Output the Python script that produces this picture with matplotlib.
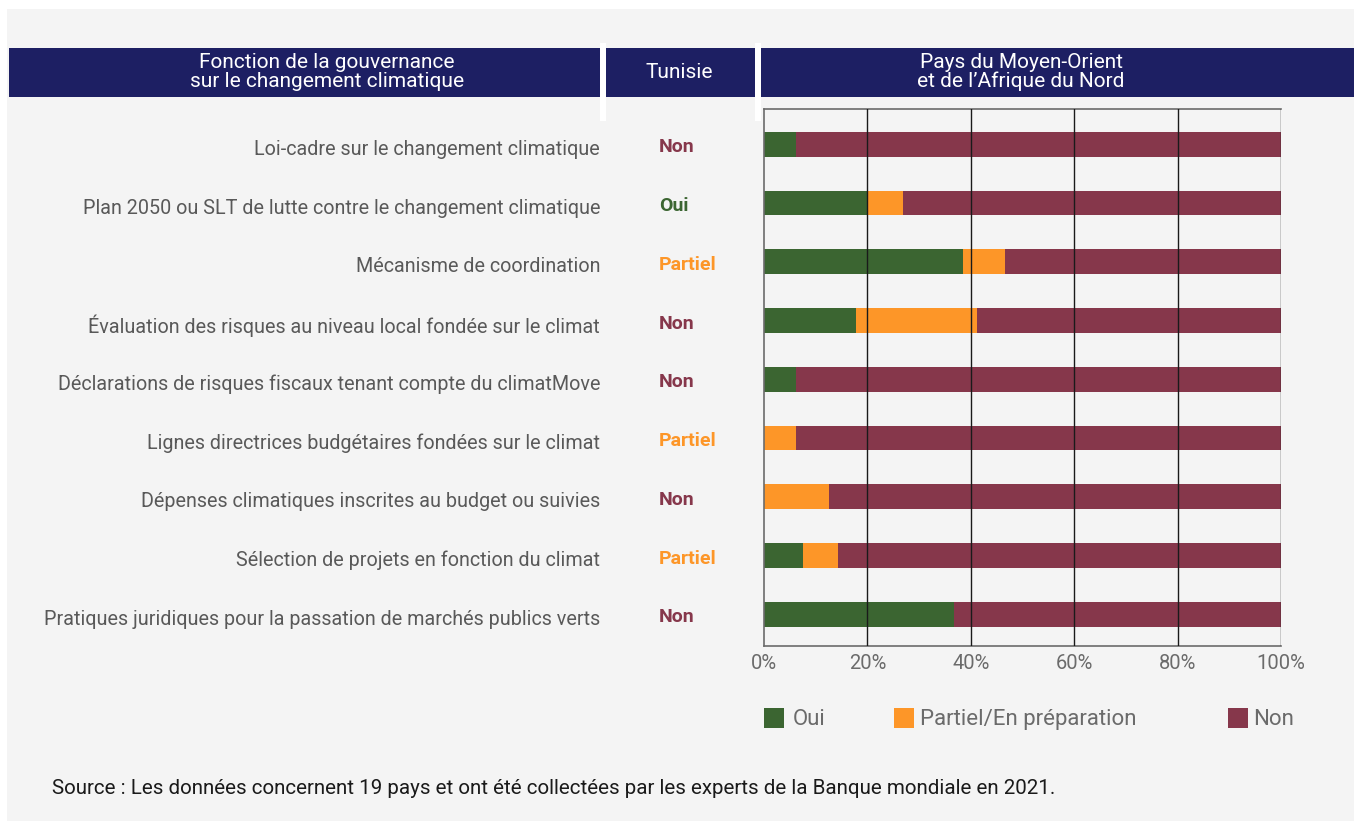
import matplotlib
matplotlib.use("Agg")
import matplotlib.pyplot as plt
import matplotlib.transforms as mtrans
from matplotlib.patches import Rectangle
from matplotlib import font_manager as fm
import numpy as np

# ---------------- data ----------------
categories = [
    "Loi-cadre sur le changement climatique",
    "Plan 2050 ou SLT de lutte contre le changement climatique",
    "Mécanisme de coordination",
    "Évaluation des risques au niveau local fondée sur le climat",
    "Déclarations de risques fiscaux tenant compte du climatMove",
    "Lignes directrices budgétaires fondées sur le climat",
    "Dépenses climatiques inscrites au budget ou suivies",
    "Sélection de projets en fonction du climat",
    "Pratiques juridiques pour la passation de marchés publics verts",
]
tunisie = ["Non", "Oui", "Partiel", "Non", "Non", "Partiel", "Non", "Partiel", "Non"]
oui = [6.1, 20.0, 38.4, 17.8, 6.1, 0.0, 0.0, 7.6, 36.7]
partiel = [0.0, 6.8, 8.3, 23.4, 0.0, 6.1, 12.6, 6.8, 0.0]
non = [100 - o - p for o, p in zip(oui, partiel)]
xticks = [0, 20, 40, 60, 80, 100]
xticklabels = ["0%", "20%", "40%", "60%", "80%", "100%"]
legend_labels = ["Oui", "Partiel/En préparation", "Non"]
headers = ["Fonction de la gouvernance\nsur le changement climatique", "Tunisie",
           "Pays du Moyen-Orient\net de l\u2019Afrique du Nord"]
source = "Source : Les données concernent 19 pays et ont été collectées par les experts de la Banque mondiale en 2021."

# ---------------- style ----------------
GREEN = "#3b6531"
ORANGE = "#fd9628"
MAROON = "#86374b"
NAVY = "#1d1f63"
BG = "#f4f4f4"
colors = [GREEN, ORANGE, MAROON]
status_colors = {"Non": MAROON, "Oui": GREEN, "Partiel": ORANGE}

avail = {f.name for f in fm.fontManager.ttflist}
body_font = [f for f in ["Roboto", "DejaVu Sans"] if f in avail]
plt.rcParams['font.family'] = body_font

W, H = 1354, 821
fig = plt.figure(figsize=(W / 100, H / 100), dpi=100, facecolor="white")


def fx(x):
    return x / W


def fy(y):
    return 1 - y / H


# gray panel
fig.patches.append(Rectangle((fx(7), 0), 1 - fx(7), fy(9), transform=fig.transFigure,
                             facecolor=BG, edgecolor="none", zorder=-10))
# header bars
for x0, x1 in [(9, 600), (606, 755), (761, 1354)]:
    fig.patches.append(Rectangle((fx(x0), fy(97)), fx(x1) - fx(x0), fy(48) - fy(97),
                                 transform=fig.transFigure, facecolor=NAVY,
                                 edgecolor="none", zorder=-5))
# white separators
for x0, x1 in [(600, 606), (755, 761)]:
    fig.patches.append(Rectangle((fx(x0), fy(121)), fx(x1) - fx(x0), fy(43) - fy(121),
                                 transform=fig.transFigure, facecolor="white",
                                 edgecolor="none", zorder=-4))

hdr_x = [327, 679, 1021]
for hx, ht in zip(hdr_x, headers):
    fig.text(fx(hx), fy(72), ht, ha="center", va="center", color="white",
             fontsize=15, linespacing=1.0, zorder=3)

# ---------------- axes ----------------
ax = fig.add_axes([fx(764), fy(646), fx(1281) - fx(764), fy(109) - fy(646)])
ax.set_facecolor(BG)
y = np.arange(len(categories))
left = np.zeros(len(categories))
for vals, c in zip([oui, partiel, non], colors):
    ax.barh(y, vals, left=left, height=0.42, color=c, edgecolor="none", zorder=2)
    left = left + np.array(vals)

ax.set_xlim(0, 100)
ax.set_ylim(8.54, -0.6)
for xv in xticks[1:]:
    ax.axvline(xv, color="#1a1a1a", lw=1.0, zorder=3)
ax.set_xticks(xticks)
ax.set_xticklabels(xticklabels, color="#6b6b6b", fontsize=14.5)
ax.tick_params(axis="x", length=0, pad=6)
ax.set_yticks(y)
ax.set_yticklabels(categories, color="#595959", fontsize=14.2)
ax.tick_params(axis="y", length=0, pad=(764 - 600) * 0.72)
shift = mtrans.ScaledTranslation(0, -3 / 100, fig.dpi_scale_trans)
for lab in ax.get_yticklabels():
    lab.set_transform(lab.get_transform() + shift)
for s in ["top", "left", "bottom", "right"]:
    ax.spines[s].set_color("#6b6b6b")
    ax.spines[s].set_linewidth(1.2)
ax.spines["right"].set_visible(False)

# Tunisia column
tr = mtrans.blended_transform_factory(fig.transFigure, ax.transData) + shift
for yi, st in zip(y, tunisie):
    ax.text(fx(659), yi, st, transform=tr, ha="left", va="center",
            color=status_colors[st], fontsize=14, fontweight="bold")

# legend
leg_x = [(764, 793), (894, 920), (1228, 1253)]
for (sx, tx), lab, c in zip(leg_x, legend_labels, colors):
    fig.patches.append(Rectangle((fx(sx), fy(728)), fx(20), fy(708) - fy(728),
                                 transform=fig.transFigure, facecolor=c, edgecolor="none"))
    fig.text(fx(tx), fy(719), lab, ha="left", va="center", color="#6b6b6b", fontsize=16)

fig.text(fx(52), fy(788), source, ha="left", va="center", color="#1a1a1a",
         fontsize=14.8)

fig.savefig("out.png", dpi=100, facecolor="white")
